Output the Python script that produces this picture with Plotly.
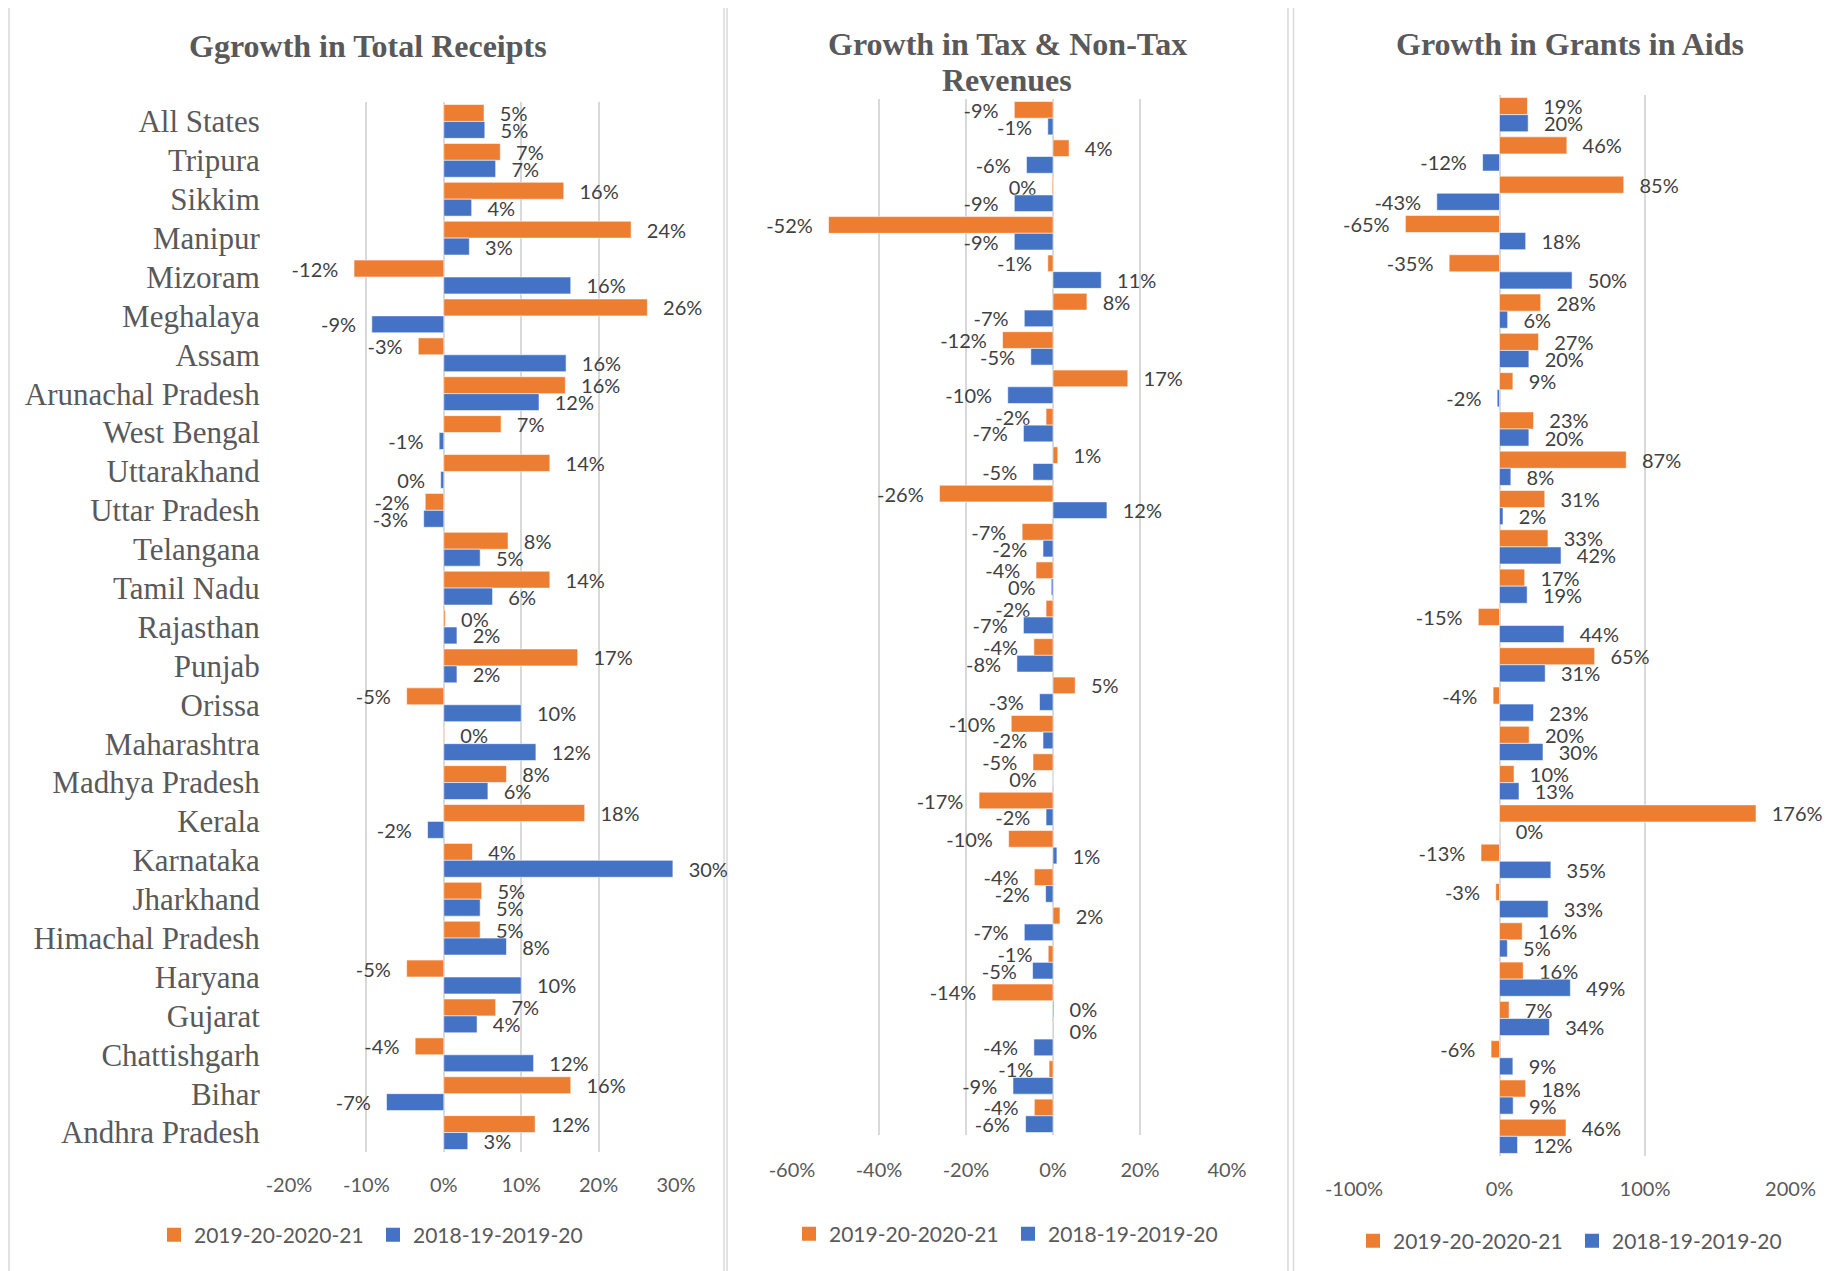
import plotly.graph_objects as go

W, H = 1845, 1271
OFF = 8  # page body margin shifts the figure by this many pixels

states = ["All States", "Tripura", "Sikkim", "Manipur", "Mizoram", "Meghalaya", "Assam",
          "Arunachal Pradesh", "West Bengal", "Uttarakhand", "Uttar Pradesh", "Telangana",
          "Tamil Nadu", "Rajasthan", "Punjab", "Orissa", "Maharashtra", "Madhya Pradesh",
          "Kerala", "Karnataka", "Jharkhand", "Himachal Pradesh", "Haryana", "Gujarat",
          "Chattishgarh", "Bihar", "Andhra Pradesh"]

series_names = ["2019-20-2020-21", "2018-19-2019-20"]

# Growth in Total Receipts (%)
total_2021 = [5.2, 7.3, 15.5, 24.2, -11.6, 26.3, -3.3, 15.7, 7.4, 13.7, -2.4, 8.3, 13.7, 0.2,
              17.3, -4.8, 0.1, 8.1, 18.2, 3.7, 4.9, 4.7, -4.8, 6.7, -3.7, 16.4, 11.8]
total_2020 = [5.3, 6.7, 3.6, 3.3, 16.4, -9.3, 15.8, 12.3, -0.6, -0.4, -2.6, 4.7, 6.3, 1.7,
              1.7, 10.0, 11.9, 5.7, -2.1, 29.6, 4.7, 8.1, 10.0, 4.3, 11.6, -7.4, 3.1]

# Growth in Tax & Non-Tax Revenues (%)
tax_2021 = [-8.9, 3.7, -0.2, -51.6, -1.2, 7.8, -11.6, 17.2, -1.6, 1.1, -26.1, -7.1, -3.9, -1.6,
            -4.4, 5.1, -9.6, -4.6, -17.0, -10.2, -4.3, 1.6, -1.1, -14.0, 0.2, -0.9, -4.3]
tax_2020 = [-1.2, -6.1, -8.9, -8.9, 11.1, -6.6, -5.1, -10.4, -6.8, -4.6, 12.4, -2.3, -0.4, -6.8,
            -8.3, -3.1, -2.3, -0.1, -1.6, 0.9, -1.7, -6.6, -4.7, 0.2, -4.4, -9.2, -6.3]

# Growth in Grants in Aids (%)
grants_2021 = [19.2, 46.3, 85.4, -64.7, -34.6, 28.3, 26.8, 9.2, 23.4, 87.1, 31.1, 33.3, 17.3,
               -14.6, 65.4, -4.4, 20.4, 10.0, 176.3, -12.7, -2.6, 15.6, 16.3, 6.6, -5.8, 18.0, 45.7]
grants_2020 = [19.7, -11.6, -43.1, 18.0, 49.9, 5.6, 20.2, -1.6, 20.2, 7.8, 2.4, 42.3, 19.0,
               44.3, 31.4, 23.4, 29.9, 13.4, 0.3, 35.3, 33.4, 5.4, 48.7, 34.3, 9.2, 9.4, 12.4]

title_lines = [["Ggrowth in Total Receipts"], ["Growth in Tax & Non-Tax", "Revenues"],
               ["Growth in Grants in Aids"]]
x_ticks = [[-20, -10, 0, 10, 20, 30], [-60, -40, -20, 0, 20, 40], [-100, 0, 100, 200]]

ORANGE = "#ED7D31"
BLUE = "#4472C4"
GRID = "#d9d9d9"
TXT = "#595959"
SERIF = "Liberation Serif"
SANS = "Lato"
PAD_POS = "\u00a0\u00a0\u2009"
PAD_NEG = "\u2009\u00a0\u00a0"


def X(px):
    return (px - OFF) / W


def Y(py):
    return 1 - (py - OFF) / H


def labels(vals):
    out = []
    for v in vals:
        s = f"{int(round(v))}%"
        out.append(PAD_POS + s if v >= 0 else s + PAD_NEG)
    return out


def tick_text(vals):
    return [f"{v}%" for v in vals]


panels = [
    dict(data=[total_2021, total_2020], xdom=(289, 676), ydom=(102, 1152), rng=[-20, 30],
         showcat=True, title_x=368, title_y=[46], legend_x=373, legend_y=1235, ticklen=15),
    dict(data=[tax_2021, tax_2020], xdom=(792, 1227), ydom=(99, 1135), rng=[-60, 40],
         showcat=False, title_x=1007, title_y=[44, 80], legend_x=1008, legend_y=1234, ticklen=17),
    dict(data=[grants_2021, grants_2020], xdom=(1354, 1790.5), ydom=(95, 1156), rng=[-100, 200],
         showcat=False, title_x=1570, title_y=[44], legend_x=1572, legend_y=1241, ticklen=15),
]

fig = go.Figure()
layout_updates = {}
for i, p in enumerate(panels):
    n = "" if i == 0 else str(i + 1)
    leg = "legend" if i == 0 else f"legend{i + 1}"
    for j, (vals, color) in enumerate(zip(p["data"], [ORANGE, BLUE])):
        fig.add_trace(go.Bar(
            y=states, x=vals, orientation="h", name=series_names[j],
            marker=dict(color=color, line=dict(color="rgba(255,255,255,0.7)", width=0.8)),
            text=labels(vals), textposition="outside", cliponaxis=False,
            constraintext="none",
            textfont=dict(family=SANS, size=20, color="#404040"),
            xaxis="x" + n, yaxis="y" + n, showlegend=False, hoverinfo="skip",
        ))
    # legend keys (square swatches)
    for j, color in enumerate([ORANGE, BLUE]):
        fig.add_trace(go.Scatter(
            x=[None], y=[None], mode="markers", name=series_names[j],
            marker=dict(symbol="square", size=14, color=color),
            xaxis="x" + n, yaxis="y" + n, legend=leg, showlegend=True, hoverinfo="skip",
        ))
    layout_updates["xaxis" + n] = dict(
        domain=[X(p["xdom"][0]), X(p["xdom"][1])], range=p["rng"], anchor="y" + n,
        tickvals=x_ticks[i], ticktext=tick_text(x_ticks[i]),
        showgrid=True, gridcolor=GRID, gridwidth=1.5,
        zeroline=True, zerolinecolor=GRID, zerolinewidth=1.5,
        showline=False, ticks="outside", ticklen=p["ticklen"], tickcolor="rgba(0,0,0,0)",
        tickfont=dict(family=SANS, size=20, color=TXT), fixedrange=True, automargin=False,
    )
    layout_updates["yaxis" + n] = dict(
        domain=[Y(p["ydom"][1]), Y(p["ydom"][0])], anchor="x" + n,
        type="category", autorange="reversed", showgrid=False, zeroline=False,
        showline=False, showticklabels=p["showcat"],
        ticks="outside", ticklen=22, tickcolor="rgba(0,0,0,0)",
        tickfont=dict(family=SERIF, size=31, color=TXT), fixedrange=True, automargin=False,
    )
    layout_updates[leg] = dict(
        orientation="h", x=X(p["legend_x"]), xanchor="center",
        y=Y(p["legend_y"]), yanchor="middle",
        font=dict(family=SANS, size=21, color=TXT), bgcolor="rgba(0,0,0,0)",
        itemclick=False, itemdoubleclick=False, traceorder="normal",
        itemwidth=30, entrywidth=174, entrywidthmode="pixels",
    )

annotations = []
for i, p in enumerate(panels):
    for line, ty in zip(title_lines[i], p["title_y"]):
        annotations.append(dict(
            text=line, x=X(p["title_x"]), y=Y(ty),
            xref="paper", yref="paper", xanchor="center", yanchor="middle", showarrow=False,
            font=dict(family=SERIF, size=32, color=TXT, weight="bold"),
        ))

borders = [(9, 724, 7), (727, 1288, 5), (1293.5, 1900, 5)]
shapes = []
for x0, x1, y0 in borders:
    shapes.append(dict(type="rect", xref="paper", yref="paper",
                       x0=X(x0), x1=X(x1), y0=-0.05, y1=Y(y0),
                       line=dict(color=GRID, width=1.5), fillcolor="rgba(0,0,0,0)", layer="below"))

fig.update_layout(
    width=W, height=H, margin=dict(l=0, r=0, t=0, b=0, pad=0, autoexpand=False),
    paper_bgcolor="white", plot_bgcolor="white",
    barmode="group", bargap=0.13, bargroupgap=0,
    showlegend=True, annotations=annotations, shapes=shapes,
    **layout_updates,
)

fig.write_html("out.html")
